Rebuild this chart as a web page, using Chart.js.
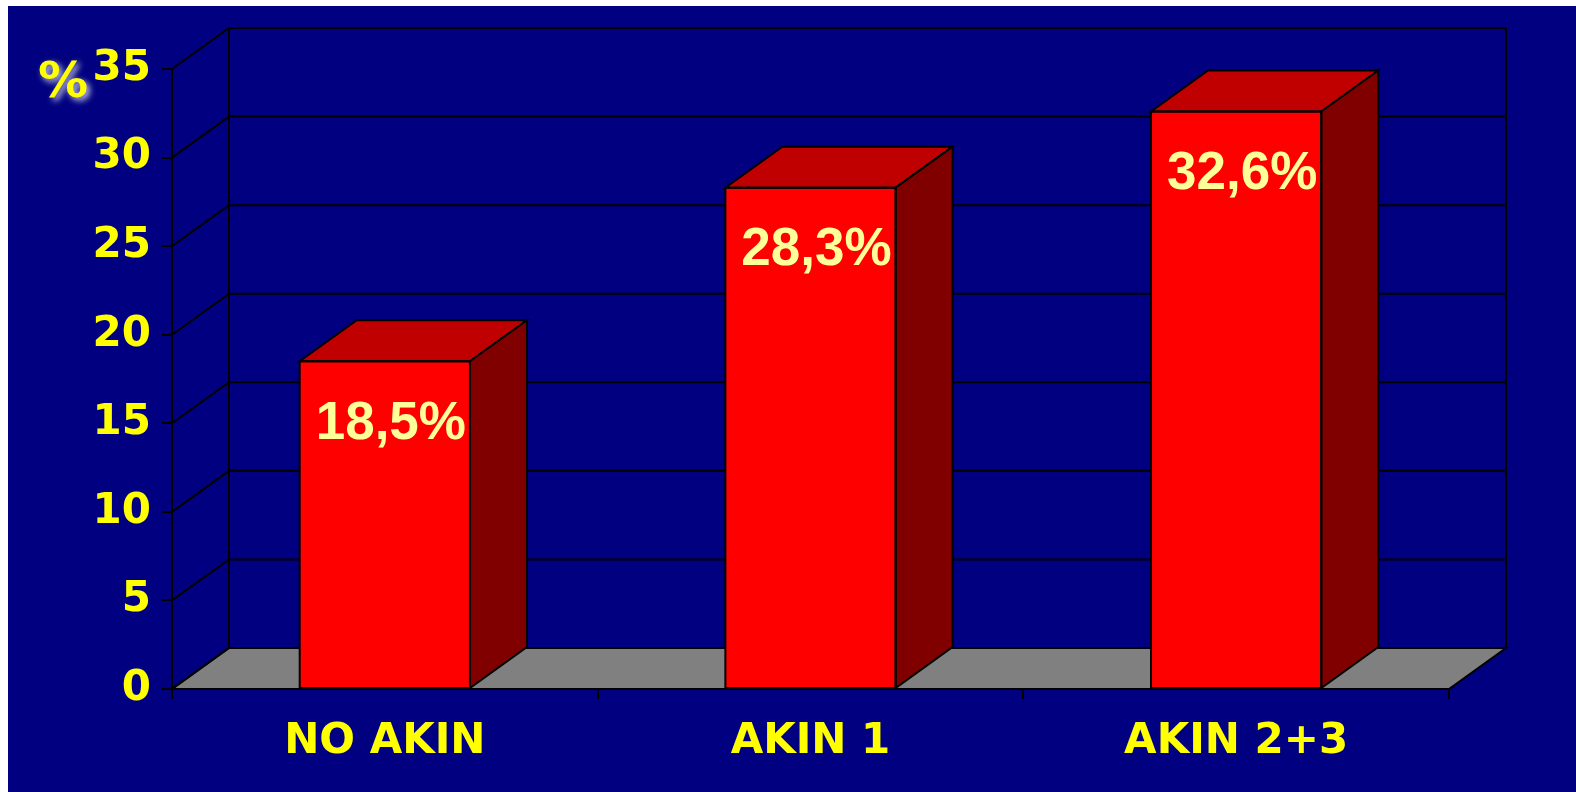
<!DOCTYPE html>
<html>
<head>
<meta charset="utf-8">
<title>AKIN</title>
<script src="https://cdn.jsdelivr.net/npm/chart.js@4.4.1/dist/chart.umd.min.js"></script>
<style>
  html, body { margin: 0; padding: 0; background: #ffffff; }
  canvas { display: block; }
</style>
</head>
<body>
<canvas id="akinChart" width="1576" height="792"></canvas>
<script>
// Données
const categories = ['NO AKIN', 'AKIN 1', 'AKIN 2+3'];
const percentages = [18.5, 28.3, 32.6];
const yTicks = [0, 5, 10, 15, 20, 25, 30, 35];

// Profondeur de la perspective 3D (px)
const DEPTH_X = 57;
const DEPTH_Y = 41;

const fmt = v => v.toFixed(1).replace('.', ',') + '%';

function poly(ctx, pts, fill) {
    ctx.beginPath();
    ctx.moveTo(pts[0][0], pts[0][1]);
    for (let i = 1; i < pts.length; i++) ctx.lineTo(pts[i][0], pts[i][1]);
    ctx.closePath();
    if (fill) { ctx.fillStyle = fill; ctx.fill(); }
    ctx.stroke();
}

// Fond, murs et plancher en perspective
const walls3d = {
    id: 'walls3d',
    beforeDraw(chart) {
        const { ctx, chartArea: a, scales } = chart;
        const y = scales.y;
        ctx.save();
        ctx.fillStyle = '#ffffff';
        ctx.fillRect(0, 0, chart.width, chart.height);
        ctx.fillStyle = '#000080';
        ctx.fillRect(8, 6, chart.width - 8, chart.height - 6);

        ctx.strokeStyle = '#000000';
        ctx.lineWidth = 2;
        const bx0 = a.left + DEPTH_X, bx1 = a.right + DEPTH_X;
        // plancher gris
        poly(ctx, [[a.left, a.bottom], [a.right, a.bottom], [bx1, a.bottom - DEPTH_Y], [bx0, a.bottom - DEPTH_Y]], '#808080');
        // quadrillage : mur gauche + mur du fond
        yTicks.forEach(t => {
            const py = y.getPixelForValue(t);
            ctx.beginPath();
            ctx.moveTo(a.left, py);
            ctx.lineTo(bx0, py - DEPTH_Y);
            ctx.lineTo(bx1, py - DEPTH_Y);
            ctx.stroke();
        });
        const top = y.getPixelForValue(yTicks[yTicks.length - 1]) - DEPTH_Y;
        ctx.beginPath();
        ctx.moveTo(bx0, top); ctx.lineTo(bx0, a.bottom - DEPTH_Y);
        ctx.moveTo(bx1, top); ctx.lineTo(bx1, a.bottom - DEPTH_Y);
        ctx.stroke();
        ctx.restore();
    },
    afterDatasetsDraw(chart) {
        const { ctx } = chart;
        const meta = chart.getDatasetMeta(0);
        ctx.save();
        ctx.strokeStyle = '#000000';
        ctx.lineWidth = 2;
        ctx.lineJoin = 'miter';
        meta.data.forEach((bar, i) => {
            const x0 = bar.x - bar.width / 2, x1 = bar.x + bar.width / 2;
            const yt = bar.y, yb = bar.base;
            // dessus
            poly(ctx, [[x0, yt], [x1, yt], [x1 + DEPTH_X, yt - DEPTH_Y], [x0 + DEPTH_X, yt - DEPTH_Y]], '#c00000');
            // côté droit
            poly(ctx, [[x1, yt], [x1 + DEPTH_X, yt - DEPTH_Y], [x1 + DEPTH_X, yb - DEPTH_Y], [x1, yb]], '#800000');
            // face avant (contour)
            ctx.strokeRect(x0, yt, x1 - x0, yb - yt);

            // étiquette de valeur
            ctx.fillStyle = '#ffff99';
            ctx.font = 'bold 53px "Liberation Sans", Arial, sans-serif';
            ctx.textAlign = 'center';
            ctx.textBaseline = 'middle';
            ctx.fillText(fmt(percentages[i]), bar.x + 6, yt + 63);
        });

        // titre de l'axe Y
        ctx.font = 'bold 50px "DejaVu Sans", Verdana, sans-serif';
        ctx.textAlign = 'left';
        ctx.textBaseline = 'alphabetic';
        ctx.shadowColor = 'rgba(225,225,245,0.95)';
        ctx.shadowBlur = 6;
        ctx.shadowOffsetX = 3;
        ctx.shadowOffsetY = 3;
        ctx.fillStyle = '#ffff00';
        ctx.fillText('%', 38, 97);
        ctx.restore();
    }
};

const tickFont = { family: '"DejaVu Sans", Verdana, sans-serif', size: 42, weight: 'bold' };

new Chart(document.getElementById('akinChart'), {
    type: 'bar',
    data: {
        labels: categories,
        datasets: [{
            data: percentages,
            backgroundColor: '#ff0000',
            borderWidth: 0,
            categoryPercentage: 1.0,
            barPercentage: 0.4
        }]
    },
    options: {
        responsive: false,
        animation: false,
        layout: { padding: { top: 69, right: 127, left: 0, bottom: 0 } },
        plugins: {
            legend: { display: false },
            tooltip: { enabled: false }
        },
        scales: {
            x: {
                grid: { display: true, offset: true, drawOnChartArea: false, drawTicks: true, tickLength: 10, color: '#000000', lineWidth: 2 },
                border: { display: true, color: '#000000', width: 2 },
                ticks: { color: '#ffff00', font: tickFont, padding: 18, maxRotation: 0 },
                afterFit: s => { s.height = 103; }
            },
            y: {
                min: 0,
                max: 35,
                afterBuildTicks: s => { s.ticks = yTicks.map(v => ({ value: v })); },
                grid: { drawOnChartArea: false, drawTicks: true, tickLength: 10, color: '#000000', lineWidth: 2 },
                border: { display: true, color: '#000000', width: 2 },
                ticks: { color: '#ffff00', font: tickFont, padding: 11 },
                afterFit: s => { s.width = 172; }
            }
        }
    },
    plugins: [walls3d]
});
</script>
</body>
</html>
